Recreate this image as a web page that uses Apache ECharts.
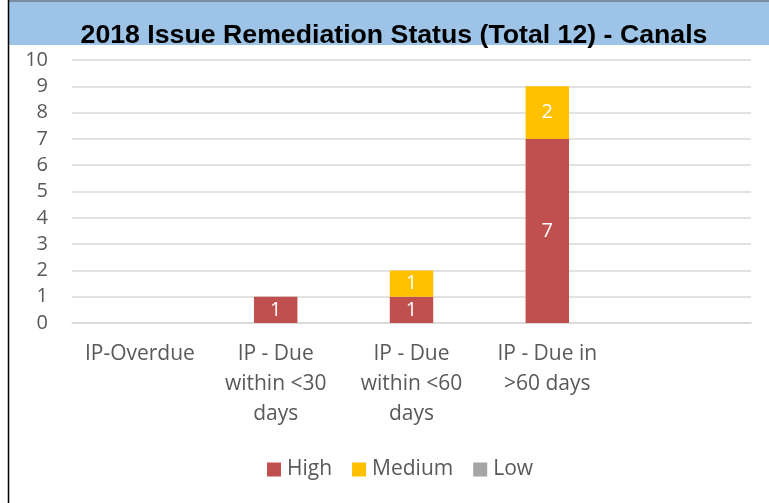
<!DOCTYPE html>
<html>
<head>
<meta charset="utf-8">
<script src="https://cdn.jsdelivr.net/npm/echarts@6/dist/echarts.min.js"></script>
<style>
  html, body { margin: 0; padding: 0; background: #fff; }
  #chart { width: 769px; height: 503px; }
</style>
</head>
<body>
<div id="chart"></div>
<script>
// categories and values
var categories = ['IP-Overdue', 'IP - Due\nwithin <30\ndays', 'IP - Due\nwithin <60\ndays', 'IP - Due in\n>60 days', ''];
var highData = [0, 1, 1, 7, null];
var mediumData = [0, 0, 1, 2, null];
var lowData = [0, 0, 0, 0, null];

var myChart = echarts.init(document.getElementById('chart'));

function labelFmt(p) {
  return p.value ? String(p.value) : '';
}

var barLabel = {
  show: true,
  position: 'inside',
  color: '#fff',
  fontFamily: 'Open Sans',
  fontSize: 20,
  formatter: labelFmt
};

var option = {
  animation: false,
  graphic: [
    { type: 'rect', shape: { x: 8, y: 0, width: 761, height: 45 }, style: { fill: '#9dc3e6' }, z: -1 },
    { type: 'line', shape: { x1: 8, y1: 1, x2: 769, y2: 1 }, style: { stroke: '#595959', lineWidth: 1 } },
    { type: 'line', shape: { x1: 8.5, y1: 0, x2: 8.5, y2: 503 }, style: { stroke: '#000', lineWidth: 1.5 } }
  ],
  title: {
    text: '2018 Issue Remediation Status (Total 12) - Canals',
    left: 389,
    textAlign: 'center',
    top: 17,
    textStyle: {
      fontFamily: 'Liberation Sans',
      fontWeight: 'bold',
      fontSize: 26.7,
      color: '#000'
    }
  },
  legend: {
    data: ['High', 'Medium', 'Low'],
    left: 262,
    top: 454,
    icon: 'rect',
    itemWidth: 14,
    itemHeight: 14,
    itemGap: 20,
    textStyle: { fontFamily: 'Open Sans', fontSize: 21, color: '#595959', padding: [0, 0, 0, 1] }
  },
  grid: { left: 72, right: 18, top: 60, bottom: 180 },
  xAxis: {
    type: 'category',
    data: categories,
    axisLine: { lineStyle: { color: '#d9d9d9', width: 1.5 } },
    axisTick: { show: false },
    axisLabel: {
      interval: 0,
      color: '#595959',
      fontFamily: 'Open Sans',
      fontSize: 21,
      lineHeight: 30,
      margin: 16
    }
  },
  yAxis: {
    type: 'value',
    min: 0,
    max: 10,
    interval: 1,
    axisLine: { show: false },
    axisTick: { show: false },
    splitLine: { lineStyle: { color: '#d9d9d9', width: 1.5 } },
    axisLabel: {
      color: '#595959',
      fontFamily: 'Open Sans',
      fontSize: 20,
      margin: 24
    }
  },
  series: [
    { name: 'High', type: 'bar', stack: 'total', data: highData, barWidth: '32%',
      itemStyle: { color: '#c0504d' }, label: barLabel },
    { name: 'Medium', type: 'bar', stack: 'total', data: mediumData,
      itemStyle: { color: '#ffc000' }, label: barLabel },
    { name: 'Low', type: 'bar', stack: 'total', data: lowData,
      itemStyle: { color: '#a5a5a5' }, label: barLabel }
  ]
};

myChart.setOption(option);
window.addEventListener('resize', function () {
  myChart.resize();
});
</script>
</body>
</html>
